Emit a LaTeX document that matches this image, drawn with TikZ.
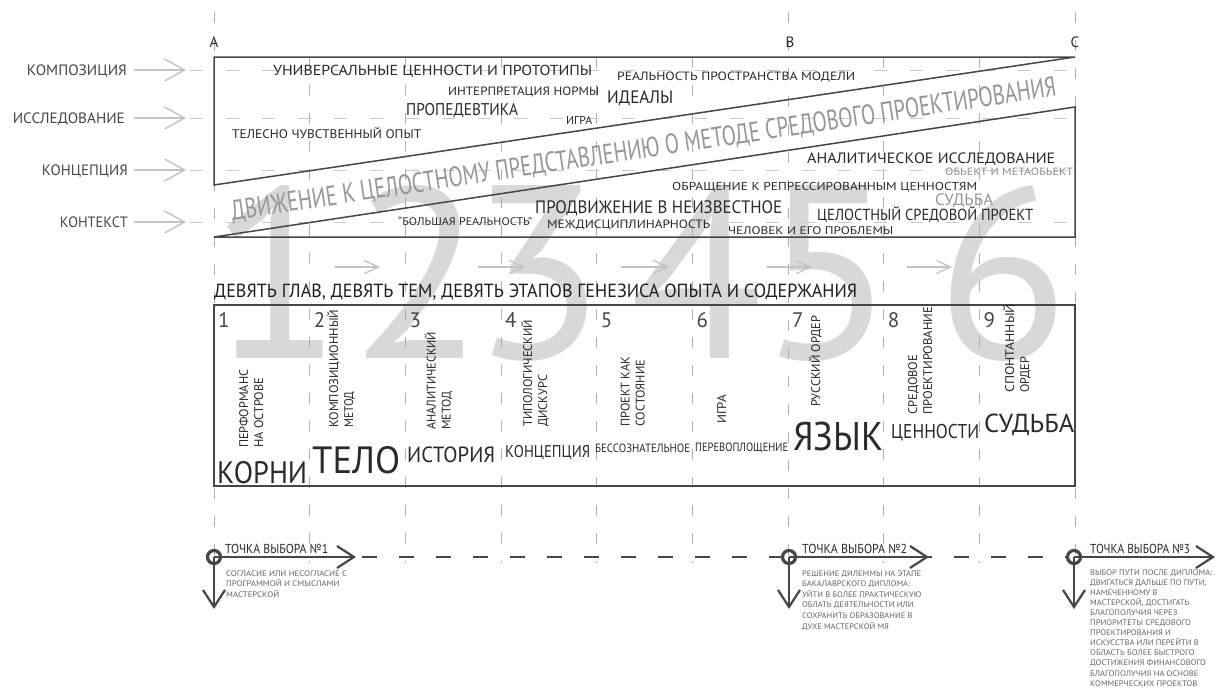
\documentclass[tikz,border=0pt]{standalone}
\usepackage{fontspec}
\setmainfont{PT Sans}
\usepackage{graphicx}
\usetikzlibrary{arrows.meta}
\definecolor{txtc}{RGB}{42,42,42}
\definecolor{lnc}{RGB}{70,70,70}
\definecolor{dkc}{RGB}{70,70,70}
\definecolor{gridc}{RGB}{175,175,175}
\definecolor{hgridc}{RGB}{200,200,200}
\definecolor{arrc}{RGB}{195,195,195}
\definecolor{bandc}{RGB}{150,150,150}
\definecolor{digc}{RGB}{216,216,216}
\definecolor{descc}{RGB}{100,100,100}
\definecolor{lightc}{RGB}{140,140,140}
\newlength\fitlen
\newcommand\fitx[3]{{\fontsize{#2}{#2}\selectfont\settowidth\fitlen{#3}\pgfmathsetmacro\fitr{#1/\fitlen}\scalebox{\fitr}[1]{#3}}}
\newcommand\fitblock[5]{{\fontsize{#2}{#3}\selectfont\settowidth\fitlen{#4}\pgfmathsetmacro\fitr{#1/\fitlen}\scalebox{\fitr}[1]{\begin{tabular}[t]{@{}l@{}}#5\end{tabular}}}}
\newcommand\vtext[1]{{\fontsize{12.5}{15}\selectfont\begin{tabular}{@{}l@{}}#1\end{tabular}}}
\newcommand\bigdig[1]{\resizebox{!}{173pt}{\fontsize{100}{100}\selectfont #1}}
\begin{document}
\begin{tikzpicture}[x=1pt,y=-1pt,
  vgrid/.style={draw=gridc, line width=1pt, dash pattern=on 11pt off 17pt},
  hgrid/.style={draw=hgridc, line width=1pt, dash pattern=on 13pt off 23pt},
  boxline/.style={draw=lnc, line width=1.5pt},
  larrow/.style={draw=arrc, line width=1.4pt, -{Straight Barb[length=20pt,width=22pt]}},
  marrow/.style={draw=arrc, line width=1.3pt, -{Straight Barb[length=14pt,width=13pt]}},
  darrow/.style={draw=dkc, line width=2.2pt, -{Straight Barb[length=17pt,width=22pt]}},
  dline/.style={draw=dkc, line width=2.2pt, dash pattern=on 15pt off 22pt},
  choice/.style={circle, draw=dkc, line width=3.2pt, minimum size=13pt, inner sep=0pt},
  tx/.style={inner sep=0pt, text=txtc, anchor=base west},
  lbl/.style={inner sep=0pt, text=lnc, anchor=base east},
  vt/.style={inner sep=0pt, text=txtc, rotate=90, anchor=west},
  dig/.style={inner sep=0pt, text=digc, anchor=base},
  desc/.style={inner sep=0pt, text=descc, anchor=base west}]
\useasboundingbox[fill=white] (0,0) rectangle (1219,694);

% big background digits
\node[dig] (g1) at (277,358) {\bigdig{1}};
\node[dig] (g2) at (418,358) {\bigdig{2}};
\node[dig] (g3) at (538,358) {\bigdig{3}};
\node[dig] (g4) at (697,358) {\bigdig{4}};
\node[dig] (g5) at (828,358) {\bigdig{5}};
\node[dig] (g6) at (1003,358) {\bigdig{6}};

% grid
\foreach \i in {1,2,3,4,5,7,8}{\pgfmathsetmacro\gx{214+95.667*\i}\draw[vgrid] (\gx,57) -- (\gx,563);}
\foreach \gx in {214,788,1075}{\draw[vgrid] (\gx,12) -- (\gx,563);}
\foreach \y in {70,118,170,222}{\draw[hgrid] (190,\y) -- (1075,\y);}

% column letters
\node[tx, anchor=base, font=\fontsize{15}{15}\selectfont] (A) at (214,47) {A};
\node[tx, anchor=base, font=\fontsize{15}{15}\selectfont] (B) at (790,47) {B};
\node[tx, anchor=base, font=\fontsize{15}{15}\selectfont] (C) at (1075,47) {C};

% left labels
\node[lbl] (l1) at (127,75.5) {\fitx{100}{15}{КОМПОЗИЦИЯ}};
\node[lbl] (l2) at (125,123.5) {\fitx{112}{15}{ИССЛЕДОВАНИЕ}};
\node[lbl] (l3) at (128,175.5) {\fitx{86}{15}{КОНЦЕПЦИЯ}};
\node[lbl] (l4) at (128,227.5) {\fitx{68}{15}{КОНТЕКСТ}};
\coordinate (l1s) at (134,70);  \coordinate (l1e) at (186,70);
\coordinate (l2s) at (134,118); \coordinate (l2e) at (186,118);
\coordinate (l3s) at (134,170); \coordinate (l3e) at (186,170);
\coordinate (l4s) at (134,222); \coordinate (l4e) at (186,222);
\draw[larrow] (l1s) -- (l1e);
\draw[larrow] (l2s) -- (l2e);
\draw[larrow] (l3s) -- (l3e);
\draw[larrow] (l4s) -- (l4e);

% top box
\coordinate (TL) at (214,57); \coordinate (TR) at (1075,57); \coordinate (UL) at (214,185);
\coordinate (LL) at (214,237); \coordinate (RM) at (1075,107); \coordinate (BR) at (1075,237);
\draw[boxline] (TL) -- (TR) -- (UL) -- cycle;
\draw[boxline] (LL) -- (RM) -- (BR) -- cycle;

\node[inner sep=0pt, text=bandc, anchor=base, rotate=8.6] (band) at (645,158)
  {\fitx{834}{28}{ДВИЖЕНИЕ К ЦЕЛОСТНОМУ ПРЕДСТАВЛЕНИЮ О МЕТОДЕ СРЕДОВОГО ПРОЕКТИРОВАНИЯ}};

\node[tx] (u1) at (273,75) {\fitx{319}{14.5}{УНИВЕРСАЛЬНЫЕ ЦЕННОСТИ И ПРОТОТИПЫ}};
\node[tx] (u2) at (448,95) {\fitx{151}{12}{ИНТЕРПРЕТАЦИЯ НОРМЫ}};
\node[tx] (u3) at (617,80) {\fitx{238}{12}{РЕАЛЬНОСТЬ ПРОСТРАНСТВА МОДЕЛИ}};
\node[tx] (u4) at (607,103) {\fitx{66}{18}{ИДЕАЛЫ}};
\node[tx] (u5) at (406,115) {\fitx{112}{17}{ПРОПЕДЕВТИКА}};
\node[tx] (u6) at (566,124) {\fitx{26}{11.5}{ИГРА}};
\node[tx] (u7) at (232,138) {\fitx{189}{12.5}{ТЕЛЕСНО ЧУВСТВЕННЫЙ ОПЫТ}};

\node[tx] (w1) at (807,163) {\fitx{248}{15}{АНАЛИТИЧЕСКОЕ ИССЛЕДОВАНИЕ}};
\node[tx, text=lightc] (w2) at (945,175) {\fitx{128}{10.5}{ОБЬЕКТ И МЕТАОБЬЕКТ}};
\node[tx] (w3) at (672,190) {\fitx{305}{11.5}{ОБРАЩЕНИЕ К РЕПРЕССИРОВАННЫМ ЦЕННОСТЯМ}};
\node[tx, text=bandc] (w4) at (935,205) {\fitx{58}{16.5}{СУДЬБА}};
\node[tx] (w5) at (535,213) {\fitx{247}{18}{ПРОДВИЖЕНИЕ В НЕИЗВЕСТНОЕ}};
\node[tx] (w6) at (817,220) {\fitx{216}{16}{ЦЕЛОСТНЫЙ СРЕДОВОЙ ПРОЕКТ}};
\node[tx] (w7) at (398,225) {\fitx{134}{11}{“БОЛЬШАЯ РЕАЛЬНОСТЬ”}};
\node[tx] (w8) at (547,228) {\fitx{163}{12}{МЕЖДИСЦИПЛИНАРНОСТЬ}};
\node[tx] (w9) at (728,234) {\fitx{165}{11}{ЧЕЛОВЕК И ЕГО ПРОБЛЕМЫ}};

% middle arrows
\coordinate (m1s) at (335,267); \coordinate (m1e) at (380,267);
\coordinate (m2s) at (478,267); \coordinate (m2e) at (525,267);
\coordinate (m3s) at (621,267); \coordinate (m3e) at (669,267);
\coordinate (m4s) at (767,267); \coordinate (m4e) at (812,267);
\coordinate (m5s) at (907,267); \coordinate (m5e) at (952,267);
\draw[marrow] (m1s) -- (m1e);
\draw[marrow] (m2s) -- (m2e);
\draw[marrow] (m3s) -- (m3e);
\draw[marrow] (m4s) -- (m4e);
\draw[marrow] (m5s) -- (m5e);

% title
\node[tx, text=black!88] (title) at (214,297) {\fitx{643}{19}{ДЕВЯТЬ ГЛАВ, ДЕВЯТЬ ТЕМ, ДЕВЯТЬ ЭТАПОВ ГЕНЕЗИСА ОПЫТА И СОДЕРЖАНИЯ}};

% chapter box
\draw[boxline] (214,305) rectangle (1075,486);

% chapter numbers
\foreach \i in {1,...,9}{\pgfmathsetmacro\gx{214+95.667*(\i-1)+4}
  \node[tx, text=lnc, font=\fontsize{21}{21}\selectfont] (k\i) at (\gx,327) {\i};}

% vertical titles
\node[vt] (v1) at (252.5,448) {\vtext{\fitx{78}{12.5}{ПЕРФОРМАНС}\\\fitx{70}{12.5}{НА ОСТРОВЕ}}};
\node[vt] (v2) at (342.5,428) {\vtext{\fitx{118}{12.5}{КОМПОЗИЦИОННЫЙ}\\\fitx{36}{12.5}{МЕТОД}}};
\node[vt] (v3) at (440,430) {\vtext{\fitx{98}{12.5}{АНАЛИТИЧЕСКИЙ}\\\fitx{38}{12.5}{МЕТОД}}};
\node[vt] (v4) at (536.5,427) {\vtext{\fitx{107}{12.5}{ТИПОЛОГИЧЕСКИЙ}\\\fitx{52}{12.5}{ДИСКУРС}}};
\node[vt] (v5) at (634,427) {\vtext{\fitx{70}{12.5}{ПРОЕКТ КАК}\\\fitx{67}{12.5}{СОСТОЯНИЕ}}};
\node[vt] (v6) at (723,424) {\vtext{\fitx{29}{12.5}{ИГРА}}};
\node[vt] (v7) at (817,407) {\vtext{\fitx{91}{12.5}{РУССКИЙ ОРДЕР}}};
\node[vt] (v8) at (921.5,415) {\vtext{\fitx{60}{12.5}{СРЕДОВОЕ}\\\fitx{108}{12.5}{ПРОЕКТИРОВАНИЕ}}};
\node[vt] (v9) at (1018.5,393) {\vtext{\fitx{89}{12.5}{СПОНТАННЫЙ}\\\fitx{36}{12.5}{ОРДЕР}}};

% big words
\node[tx] (b1) at (217,483) {\fitx{90}{31}{КОРНИ}};
\node[tx] (b2) at (312,473) {\fitx{88}{38}{ТЕЛО}};
\node[tx] (b3) at (407,462) {\fitx{88}{22}{ИСТОРИЯ}};
\node[tx] (b4) at (505,457) {\fitx{85}{17}{КОНЦЕПЦИЯ}};
\node[tx] (b5) at (595,452) {\fitx{95}{12}{БЕССОЗНАТЕЛЬНОЕ}};
\node[tx] (b6) at (695,451) {\fitx{93}{12}{ПЕРЕВОПЛОЩЕНИЕ}};
\node[tx] (b7) at (793,450) {\fitx{90}{40}{ЯЗЫК}};
\node[tx] (b8) at (891,438) {\fitx{88}{20}{ЦЕННОСТИ}};
\node[tx] (b9) at (984,432) {\fitx{90}{26}{СУДЬБА}};

% choice points
\node[choice] (c1) at (214,557) {};
\node[choice] (c2) at (789,557) {};
\node[choice] (c3) at (1074,557) {};
\coordinate (h1) at (356,557); \coordinate (v1e) at (214,609);
\coordinate (h2) at (929,557); \coordinate (v2e) at (789,609);
\coordinate (h3) at (1215,557); \coordinate (v3e) at (1074,609);
\coordinate (d0) at (362,557);
\draw[dline] (d0) -- (c3.west);
\draw[darrow] (c1.center) -- (h1);
\draw[darrow] (c1.center) -- (v1e);
\draw[darrow] (c2.center) -- (h2);
\draw[darrow] (c2.center) -- (v2e);
\draw[darrow] (c3.center) -- (h3);
\draw[darrow] (c3.center) -- (v3e);

\node[tx] (p1) at (225,553) {\fitx{103}{13}{ТОЧКА ВЫБОРА №1}};
\node[tx] (p2) at (802,553) {\fitx{105}{13}{ТОЧКА ВЫБОРА №2}};
\node[tx] (p3) at (1090,553) {\fitx{100}{13}{ТОЧКА ВЫБОРА №3}};

\node[desc] (q1) at (226,576) {\fitblock{121}{8}{10.5}{СОГЛАСИЕ ИЛИ НЕСОГЛАСИЕ С}{СОГЛАСИЕ ИЛИ НЕСОГЛАСИЕ С\\ПРОГРАММОЙ И СМЫСЛАМИ\\МАСТЕРСКОЙ}};
\node[desc] (q2) at (802,576) {\fitblock{119}{8}{10.6}{РЕШЕНИЕ ДИЛЕММЫ НА ЭТАПЕ}{РЕШЕНИЕ ДИЛЕММЫ НА ЭТАПЕ\\БАКАЛАВРСКОГО ДИПЛОМА:\\УЙТИ В БОЛЕЕ ПРАКТИЧЕСКУЮ\\ОБЛАТЬ ДЕЯТЕЛЬНОСТИ ИЛИ\\СОХРАНИТЬ ОБРАЗОВАНИЕ В\\ДУХЕ МАСТЕРСКОЙ МЯ}};
\node[desc] (q3) at (1090,575) {\fitblock{122}{8}{10.1}{ВЫБОР ПУТИ ПОСЛЕ ДИПЛОМА:}{ВЫБОР ПУТИ ПОСЛЕ ДИПЛОМА:\\ДВИГАТЬСЯ ДАЛЬШЕ ПО ПУТИ,\\НАМЕЧЕННОМУ В\\МАСТЕРСКОЙ, ДОСТИГАТЬ\\БЛАГОПОЛУЧИЯ ЧЕРЕЗ\\ПРИОРИТЕТЫ СРЕДОВОГО\\ПРОЕКТИРОВАНИЯ И\\ИСКУССТВА ИЛИ ПЕРЕЙТИ В\\ОБЛАСТЬ БОЛЕЕ БЫСТРОГО\\ДОСТИЖЕНИЯ ФИНАНСОВОГО\\БЛАГОПОЛУЧИЯ НА ОСНОВЕ\\КОММЕРЧЕСКИХ ПРОЕКТОВ}};
\end{tikzpicture}
\end{document}
